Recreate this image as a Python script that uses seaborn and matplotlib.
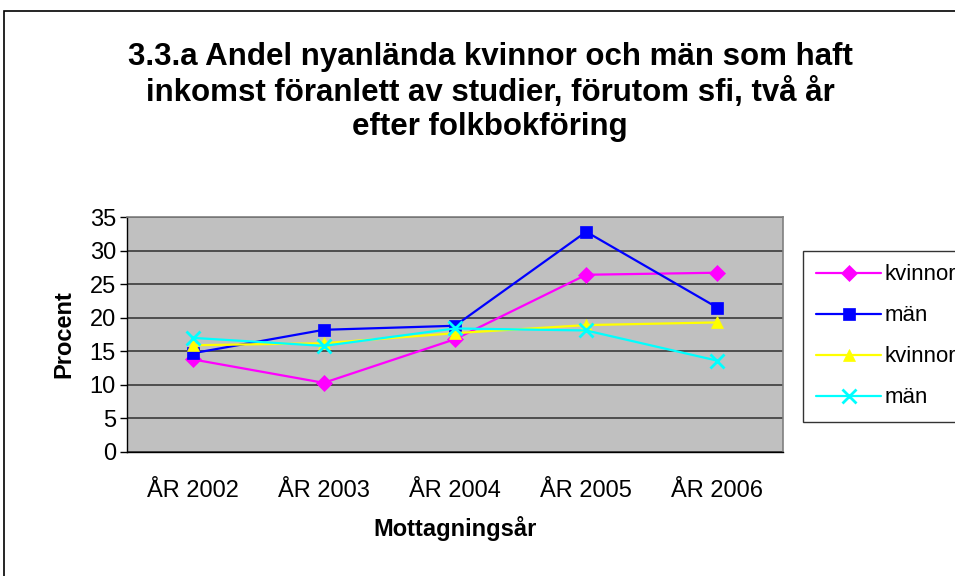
import matplotlib
matplotlib.use("Agg")
import matplotlib.pyplot as plt
import matplotlib.patches as mpatches
import seaborn as sns
import pandas as pd
import numpy as np

categories = ["ÅR 2002", "ÅR 2003", "ÅR 2004", "ÅR 2005", "ÅR 2006"]
kvinnor_1 = [13.8, 10.3, 16.8, 26.4, 26.7]
man_1 = [14.7, 18.2, 18.8, 32.8, 21.5]
kvinnor_2 = [15.9, 16.2, 17.7, 18.9, 19.3]
man_2 = [17.0, 15.8, 18.4, 18.1, 13.6]
series_labels = ["kvinnor", "män", "kvinnor", "män"]
y_ticks = [0, 5, 10, 15, 20, 25, 30, 35]

sns.set_theme(style="white")
plt.rcParams["font.family"] = ["Liberation Sans", "DejaVu Sans"]
plt.rcParams["text.color"] = "black"
plt.rcParams["axes.labelcolor"] = "black"
plt.rcParams["xtick.color"] = "black"
plt.rcParams["ytick.color"] = "black"

fig = plt.figure(figsize=(9.55, 5.76), dpi=100)
ax = fig.add_axes([127/955, 1-452/576, (783-127)/955, (452-217)/576])
ax.set_facecolor("#C0C0C0")

x = np.arange(len(categories))
styles = [
    (kvinnor_1, "#FF00FF", "D", 8),
    (man_1, "#0000FF", "s", 8),
    (kvinnor_2, "#FFFF00", "^", 9),
    (man_2, "#00FFFF", "x", 10),
]
for (vals, col, mk, ms), lab in zip(styles, series_labels):
    df = pd.DataFrame({"x": x, "y": vals})
    sns.lineplot(data=df, x="x", y="y", ax=ax, color=col, marker=mk,
                 markersize=ms, linewidth=1.6, label=lab,
                 markeredgecolor=col, markeredgewidth=2 if mk == "x" else 0.5)

ax.set_xlim(-0.5, len(categories)-0.5)
ax.set_ylim(0, 35)
ax.set_yticks(y_ticks)
ax.set_yticklabels([str(t) for t in y_ticks], fontsize=17)
ax.set_xticks(x)
ax.set_xticklabels(categories, fontsize=17)
ax.set_xticks(np.arange(-0.5, len(categories)), minor=True)
ax.tick_params(axis="x", which="major", length=0, pad=20)
ax.tick_params(axis="x", which="minor", length=6, width=1, color="black", direction="out")
ax.tick_params(axis="y", which="major", length=5, width=1, color="black", direction="out", pad=3, left=True)
ax.grid(axis="y", color="#3A3A3A", linewidth=1.2)
ax.grid(axis="x", visible=False)
ax.set_axisbelow(True)
for s in ["top", "right"]:
    ax.spines[s].set_color("#808080")
    ax.spines[s].set_linewidth(1.2)
for s in ["left", "bottom"]:
    ax.spines[s].set_color("black")
    ax.spines[s].set_linewidth(1)

ax.set_xlabel("Mottagningsår", fontsize=17, fontweight="bold", labelpad=10)
ax.set_ylabel("Procent", fontsize=17, fontweight="bold", labelpad=10)

fig.text(490/955, 1-92/576,
         "3.3.a Andel nyanlända kvinnor och män som haft\ninkomst föranlett av studier, förutom sfi, två år\nefter folkbokföring",
         ha="center", va="center", fontsize=22.5, fontweight="bold", linespacing=1.2)

leg = ax.legend(loc="upper left", bbox_to_anchor=(803/955, 1-251/576),
                bbox_transform=fig.transFigure, fontsize=16, frameon=True,
                fancybox=False, edgecolor="black", handlelength=2.9,
                borderpad=0.6, labelspacing=0.9, handletextpad=0.15,
                borderaxespad=0)
leg.get_frame().set_linewidth(1)
leg.get_frame().set_facecolor("white")

fig.patches.append(mpatches.Rectangle((4/955, -0.1), 1.2, 1-11/576+0.1,
                                      transform=fig.transFigure, fill=False,
                                      edgecolor="black", linewidth=1.2, zorder=-1))

fig.savefig("out.png", dpi=100)
